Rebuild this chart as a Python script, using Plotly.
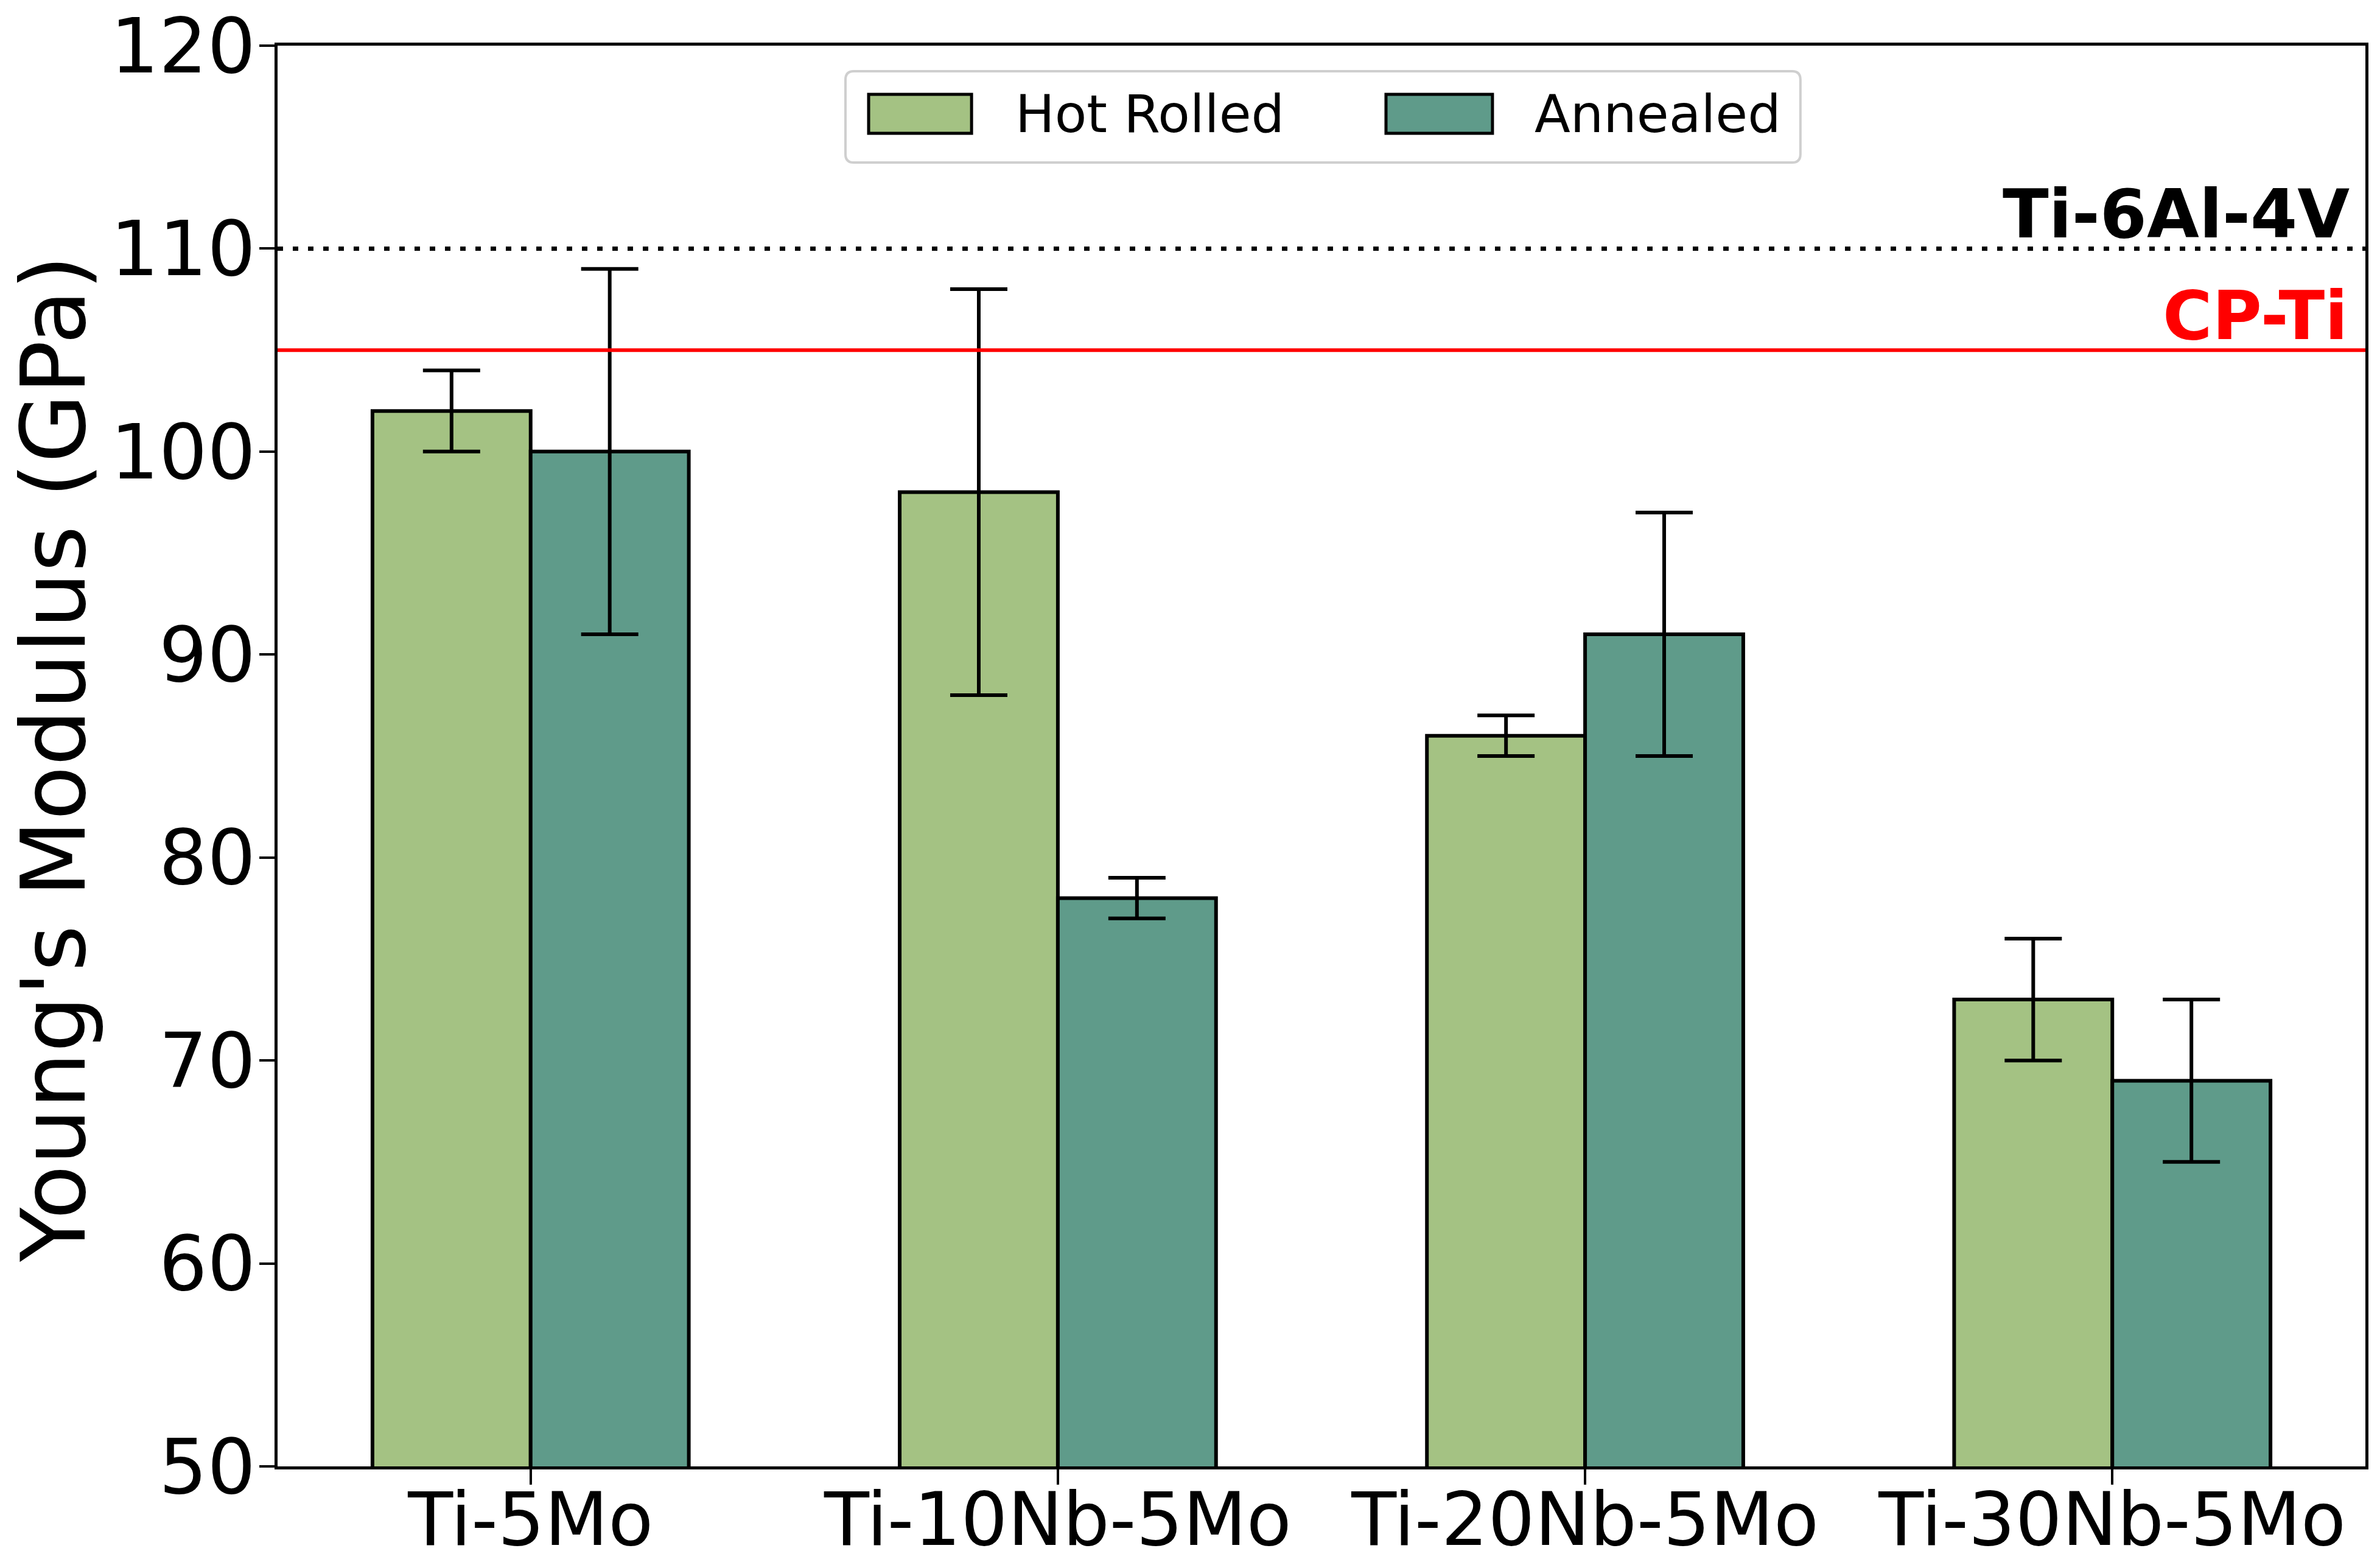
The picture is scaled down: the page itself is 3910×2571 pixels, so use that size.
import plotly.graph_objects as go

categories = ["Ti-5Mo", "Ti-10Nb-5Mo", "Ti-20Nb-5Mo", "Ti-30Nb-5Mo"]
hot_rolled = [102, 98, 86, 73]
hot_rolled_err = [2, 10, 1, 3]
annealed = [100, 78, 91, 69]
annealed_err = [9, 1, 6, 4]
series_names = ["Hot Rolled", "Annealed"]
series_colors = ["#a4c283", "#5f9b8a"]
ref_ti64 = 110
ref_cpti = 105
y_ticks = [50, 60, 70, 80, 90, 100, 110, 120]
y_title = "Young's Modulus (GPa)"

FONT = "DejaVu Sans"
W, H = 3894, 2555  # page body margin of 8px brings total to 3910x2571

fig = go.Figure()
for name, vals, errs, col in [(series_names[0], hot_rolled, hot_rolled_err, series_colors[0]),
                              (series_names[1], annealed, annealed_err, series_colors[1])]:
    fig.add_trace(go.Bar(
        x=categories, y=vals, name=name, showlegend=False,
        marker=dict(color=col, line=dict(color="black", width=6)),
        error_y=dict(type="data", array=errs, color="black", thickness=6, width=47),
    ))

fig.add_shape(type="line", xref="paper", x0=0, x1=1, yref="y", y0=ref_ti64, y1=ref_ti64,
              line=dict(color="black", width=7, dash="9px,16px"), layer="above")
fig.add_shape(type="line", xref="paper", x0=0, x1=1, yref="y", y0=ref_cpti, y1=ref_cpti,
              line=dict(color="#ff0000", width=6), layer="above")

fig.add_annotation(text="<b>Ti-6Al-4V</b>", xref="paper", x=0.993, xanchor="right",
                   yref="y", y=ref_ti64, yanchor="bottom", yshift=-10, showarrow=False,
                   font=dict(family=FONT, size=111, color="black"))
fig.add_annotation(text="<b>CP-Ti</b>", xref="paper", x=0.992, xanchor="right",
                   yref="y", y=ref_cpti, yanchor="bottom", yshift=-10, showarrow=False,
                   font=dict(family=FONT, size=111, color="#ff0000"))

# y-axis title as rotated annotation
fig.add_annotation(text=y_title, xref="paper", yref="paper", x=-0.1075, y=0.498,
                   xanchor="center", yanchor="middle", textangle=-90, showarrow=False,
                   font=dict(family=FONT, size=146, color="black"))

# manual legend (layout decoration, paper coordinates)
lx0, lx1, ly0, ly1 = 0.272, 0.7294, 0.9177, 0.982
rx, ry = 0.004, 0.006
path = (f"M {lx0+rx},{ly1} L {lx1-rx},{ly1} Q {lx1},{ly1} {lx1},{ly1-ry} "
        f"L {lx1},{ly0+ry} Q {lx1},{ly0} {lx1-rx},{ly0} L {lx0+rx},{ly0} "
        f"Q {lx0},{ly0} {lx0},{ly0+ry} L {lx0},{ly1-ry} Q {lx0},{ly1} {lx0+rx},{ly1} Z")
fig.add_shape(type="path", xref="paper", yref="paper", path=path,
              fillcolor="white", line=dict(color="#cfcfcf", width=4), layer="above")
swatch_x = [(0.2831, 0.3324), (0.5309, 0.5819)]
text_x = [0.3528, 0.6015]
for (sx0, sx1), tx, name, col in zip(swatch_x, text_x, series_names, series_colors):
    fig.add_shape(type="rect", xref="paper", yref="paper", x0=sx0, x1=sx1, y0=0.9383, y1=0.9657,
                  fillcolor=col, line=dict(color="black", width=5), layer="above")
    fig.add_annotation(text=name, xref="paper", yref="paper", x=tx, xanchor="left",
                       y=0.952, yanchor="middle", showarrow=False,
                       font=dict(family=FONT, size=86, color="black"))

fig.update_layout(
    width=W, height=H,
    paper_bgcolor="white", plot_bgcolor="white",
    margin=dict(l=448, r=16, t=67, b=154, autoexpand=False),
    barmode="group", bargap=0.4, bargroupgap=0,
    font=dict(family=FONT, color="black"),
    showlegend=False,
)
fig.update_xaxes(
    range=[-0.48, 3.48], showline=True, linecolor="black", linewidth=5, mirror=True,
    ticks="outside", ticklen=25, tickwidth=4, tickcolor="black", automargin=False,
    ticklabelstandoff=-46, ticklabeloverflow="allow",
    tickfont=dict(family=FONT, size=121, color="black"), showgrid=False,
)
fig.update_yaxes(
    range=[50, 120], tickvals=y_ticks, showline=True, linecolor="black", linewidth=5, mirror=True,
    ticks="outside", ticklen=25, tickwidth=4, tickcolor="black", automargin=False,
    ticklabelstandoff=-19, ticklabeloverflow="allow",
    tickfont=dict(family=FONT, size=125, color="black"), showgrid=False, zeroline=False,
)

fig.write_html("out.html")
